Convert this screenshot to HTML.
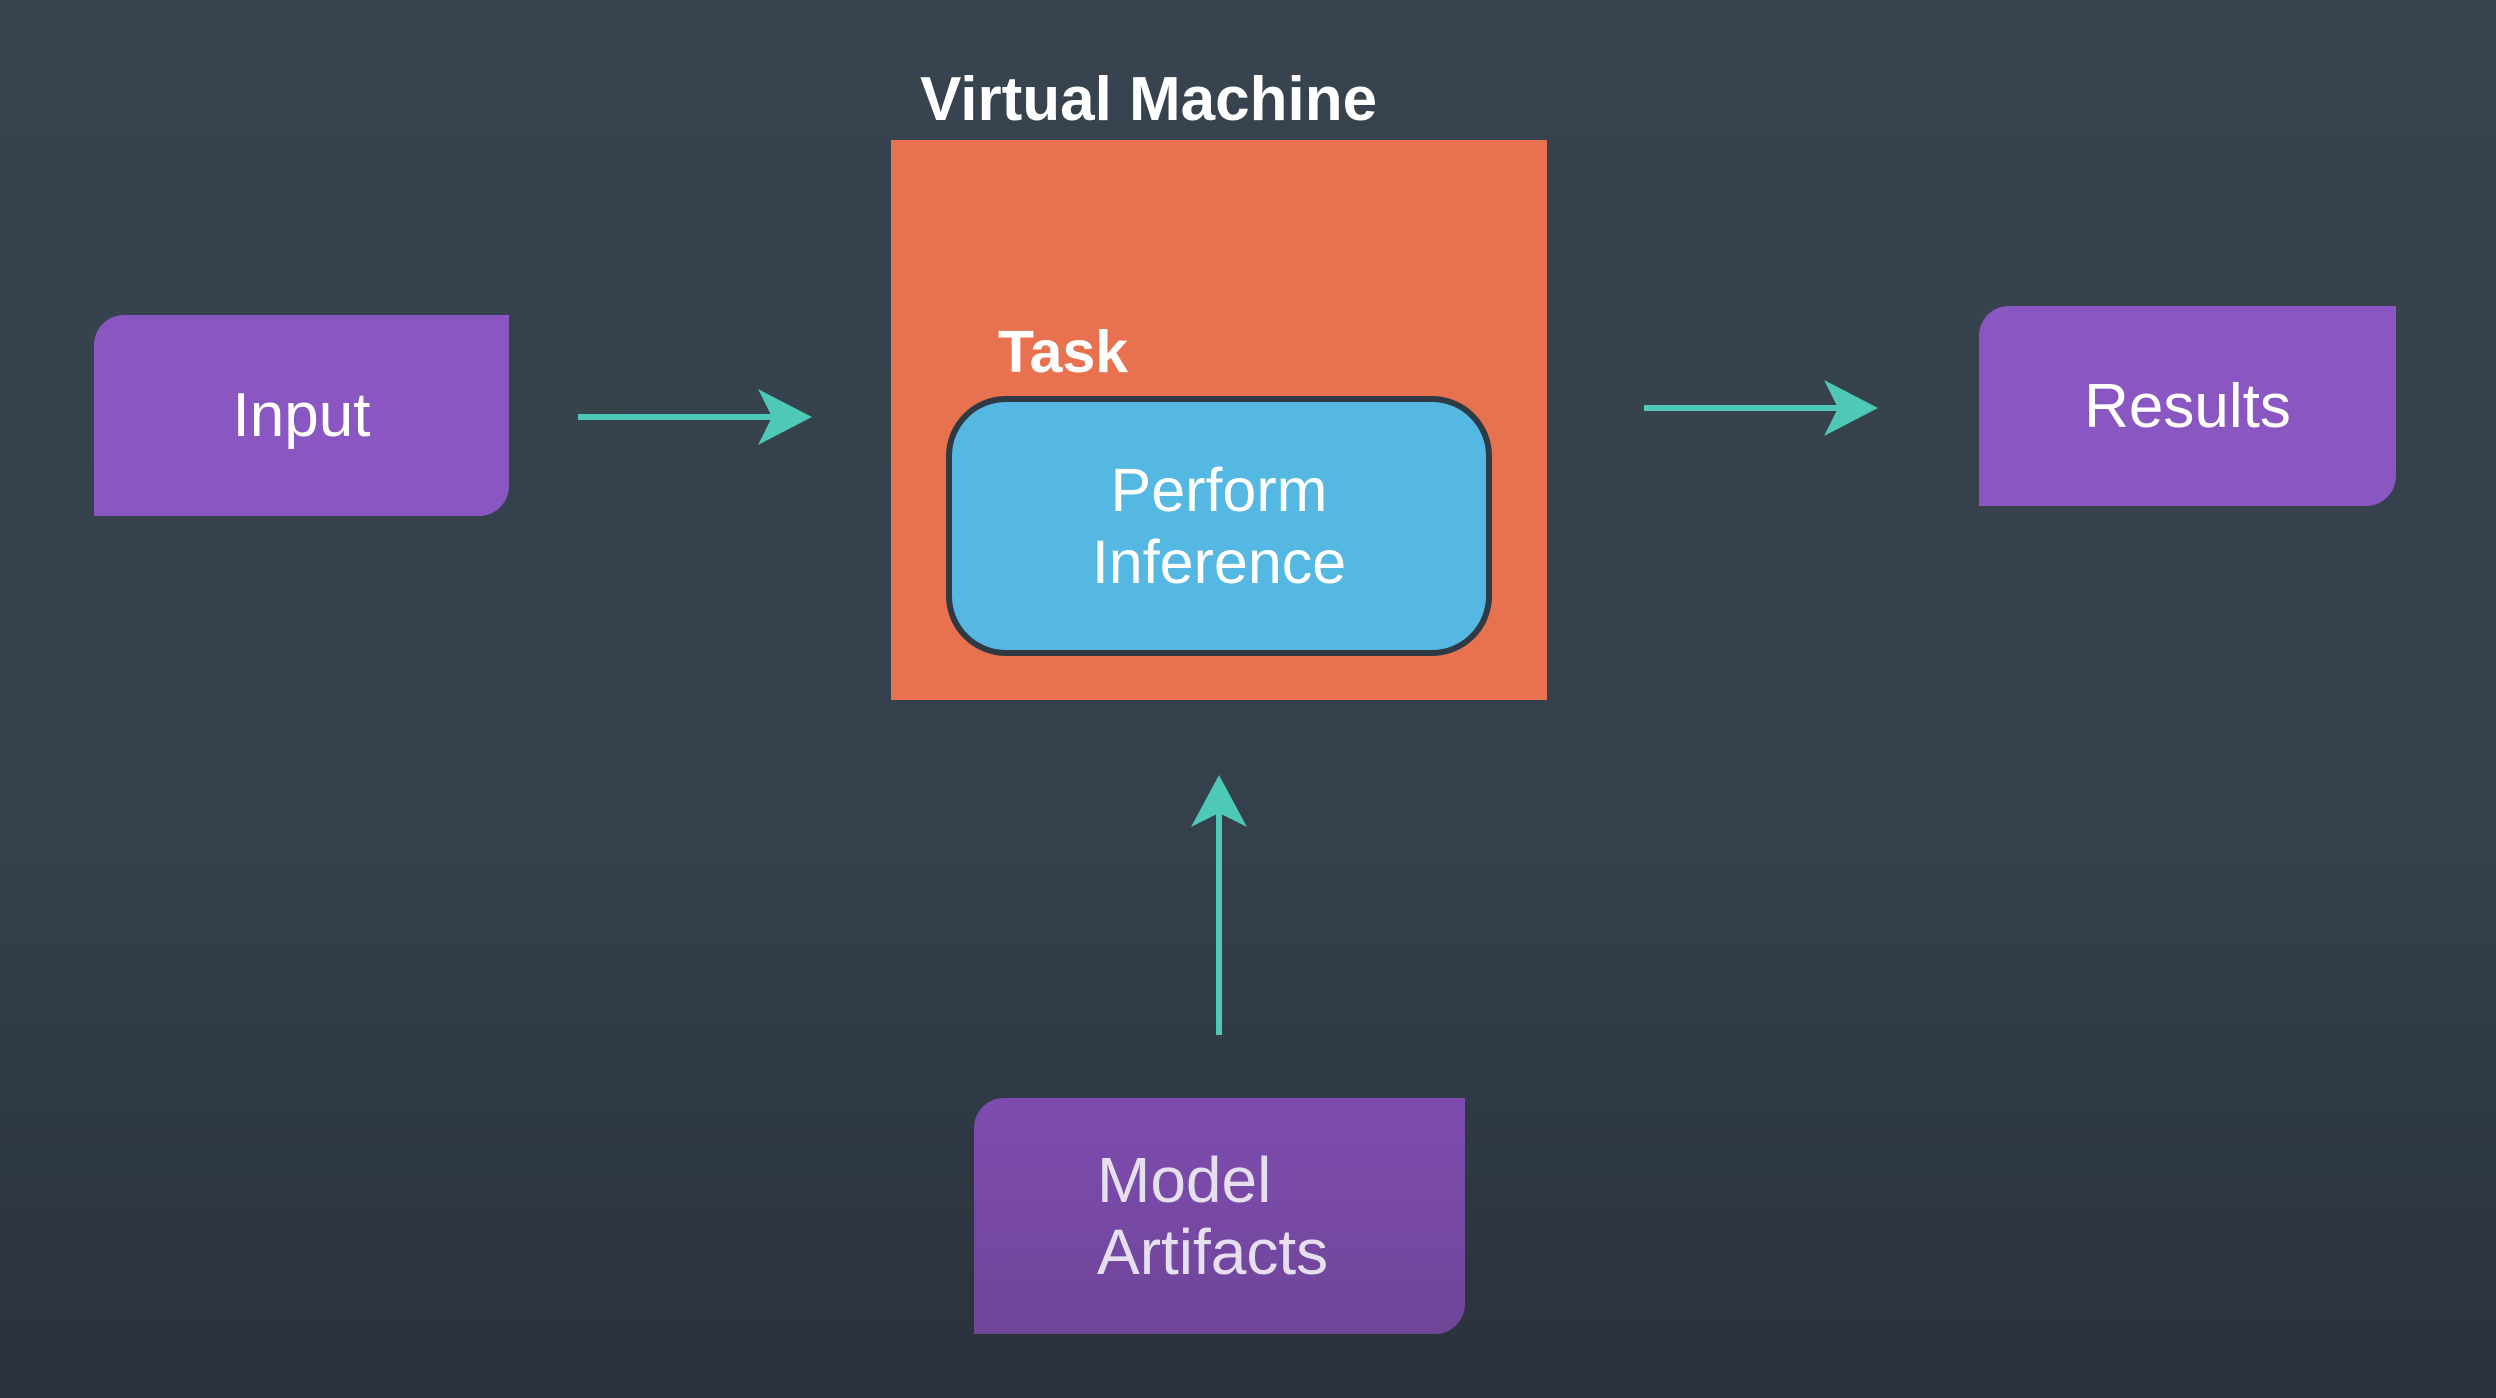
<!DOCTYPE html>
<html><head><meta charset="utf-8"><style>
html,body{margin:0;padding:0}
body{width:2496px;height:1398px;position:relative;overflow:hidden;
background:linear-gradient(180deg,#37434e 0%,#34404b 60%,#2a323b 100%);
font-family:"Liberation Sans","DejaVu Sans",sans-serif;color:#fff}
.box{position:absolute;display:flex;align-items:center;justify-content:center;font-size:62px}
.p{background:#8a56c2;border-radius:30px 0 30px 0}
.t{position:absolute;font-weight:bold;white-space:nowrap}
</style></head><body>
<div class="box p" style="left:94px;top:315px;width:415px;height:201px">Input</div>
<div class="box p" style="left:1979px;top:306px;width:417px;height:200px">Results</div>
<div class="t" style="left:920px;top:64px;font-size:62px">Virtual Machine</div>
<div style="position:absolute;left:891px;top:140px;width:656px;height:560px;background:#e8724f"></div>
<div class="t" style="left:998px;top:318px;font-size:59px">Task</div>
<div class="box" style="left:946px;top:396px;width:534px;height:248px;background:#55b8e2;border:6px solid #2f3a44;border-radius:60px;text-align:center;line-height:72px;font-size:61px">Perform<br>Inference</div>
<div class="box" style="left:974px;top:1098px;width:491px;height:236px;background:linear-gradient(180deg,#7e4cb0,#6f4598);border-radius:30px 0 30px 0;justify-content:flex-start;padding-left:123px;box-sizing:border-box;line-height:72px;font-size:64px;color:#e6e0ee">Model<br>Artifacts</div>
<svg width="2496" height="1398" style="position:absolute;left:0;top:0">
<g stroke="#4ec9b8" stroke-width="6" fill="#4ec9b8">
<line x1="578" y1="417" x2="775" y2="417"/>
<polygon stroke="none" points="812,417 758,389 772,417 758,445"/>
<line x1="1644" y1="408" x2="1840" y2="408"/>
<polygon stroke="none" points="1878,408 1824,380 1838,408 1824,436"/>
<line x1="1219" y1="1035" x2="1219" y2="810"/>
<polygon stroke="none" points="1219,775 1191,827 1219,813 1247,827"/>
</g></svg>
</body></html>
